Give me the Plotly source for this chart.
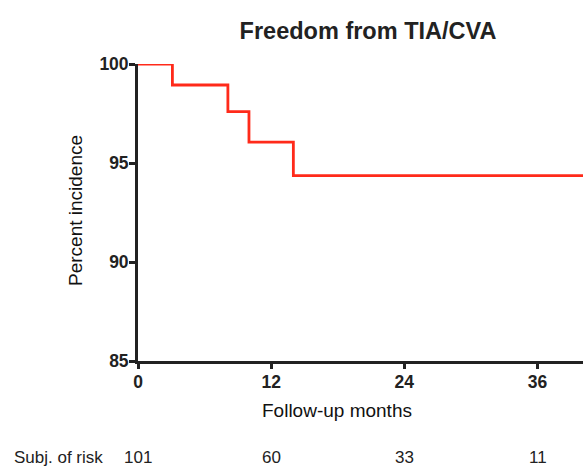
import plotly.graph_objects as go

# Kaplan-Meier style step data (months, percent)
months = [0, 3.1, 8.1, 10.0, 14.0, 40.1]
percent = [100, 98.94, 97.59, 96.05, 94.36, 94.36]

risk_months = [0, 12, 24, 36]
risk_counts = ["101", "60", "33", "11"]

x_ticks = [0, 12, 24, 36]
y_ticks = [85, 90, 95, 100]

FONT = "Liberation Sans, Arial, Helvetica, sans-serif"
W, H = 583, 469
L, R, T, B = 138, 0, 64, 108
PW, PH = W - L - R, H - T - B


def px_x(px):
    return (px - L) / PW


def px_y(py):
    return (H - B - py) / PH


fig = go.Figure()
fig.add_trace(go.Scatter(
    x=months, y=percent, mode="lines",
    line=dict(color="#ff2a1a", width=2.8, shape="hv"),
    showlegend=False, hoverinfo="skip", cliponaxis=False,
))

fig.update_layout(
    width=W, height=H,
    margin=dict(l=L, r=R, t=T, b=B, autoexpand=False),
    paper_bgcolor="white", plot_bgcolor="white",
    font=dict(family=FONT, color="#222222"),
    title=dict(text="<b>Freedom from TIA/CVA</b>", x=368 / W, xref="container", xanchor="center",
               y=1 - 30.5 / H, yref="container", yanchor="middle",
               font=dict(size=23.5, color="#222222")),
)

fig.update_xaxes(
    range=[0, 40.1], tickvals=x_ticks, ticktext=[f"<b>{v}</b>" for v in x_ticks],
    showgrid=False, zeroline=False, showline=True, linecolor="#222222", linewidth=2.8,
    ticks="outside", ticklen=5, tickwidth=2.8, tickcolor="#222222", automargin=False,
    ticklabelstandoff=-2,
    tickfont=dict(size=17.5, family=FONT, color="#222222"),
)
fig.update_yaxes(
    range=[85, 100], tickvals=y_ticks, ticktext=[f"<b>{v}</b>" for v in y_ticks],
    showgrid=False, zeroline=False, showline=True, linecolor="#222222", linewidth=2.8,
    ticks="outside", ticklen=6, tickwidth=2.8, tickcolor="#222222", automargin=False,
    ticklabelstandoff=-3,
    tickfont=dict(size=17.5, family=FONT, color="#222222"),
)

# Axis titles
fig.add_annotation(text="Follow-up months", x=px_x(337), xref="paper", xanchor="center",
                   y=px_y(411), yref="paper", yanchor="middle", showarrow=False,
                   font=dict(size=19, family=FONT, color="#111111"))
fig.add_annotation(text="Percent incidence", x=px_x(75), xref="paper", xanchor="center",
                   y=px_y(211), yref="paper", yanchor="middle", showarrow=False, textangle=-90,
                   font=dict(size=19, family=FONT, color="#111111"))

# Subjects at risk row
ROW_Y = 457.5
fig.add_annotation(text="Subj. of risk", x=px_x(12), xref="paper", xanchor="left",
                   y=px_y(ROW_Y), yref="paper", yanchor="middle", showarrow=False,
                   font=dict(size=17, family=FONT, color="#222222"))
for m, c in zip(risk_months, risk_counts):
    fig.add_annotation(text=c, x=m, xref="x", xanchor="center",
                       y=px_y(ROW_Y), yref="paper", yanchor="middle", showarrow=False,
                       font=dict(size=17, family=FONT, color="#222222"))

fig.write_html(
    "out.html",
    config={"displayModeBar": False},
    post_script="document.body.style.margin='0';document.body.style.padding='0';"
                "document.body.style.overflow='hidden';",
)
